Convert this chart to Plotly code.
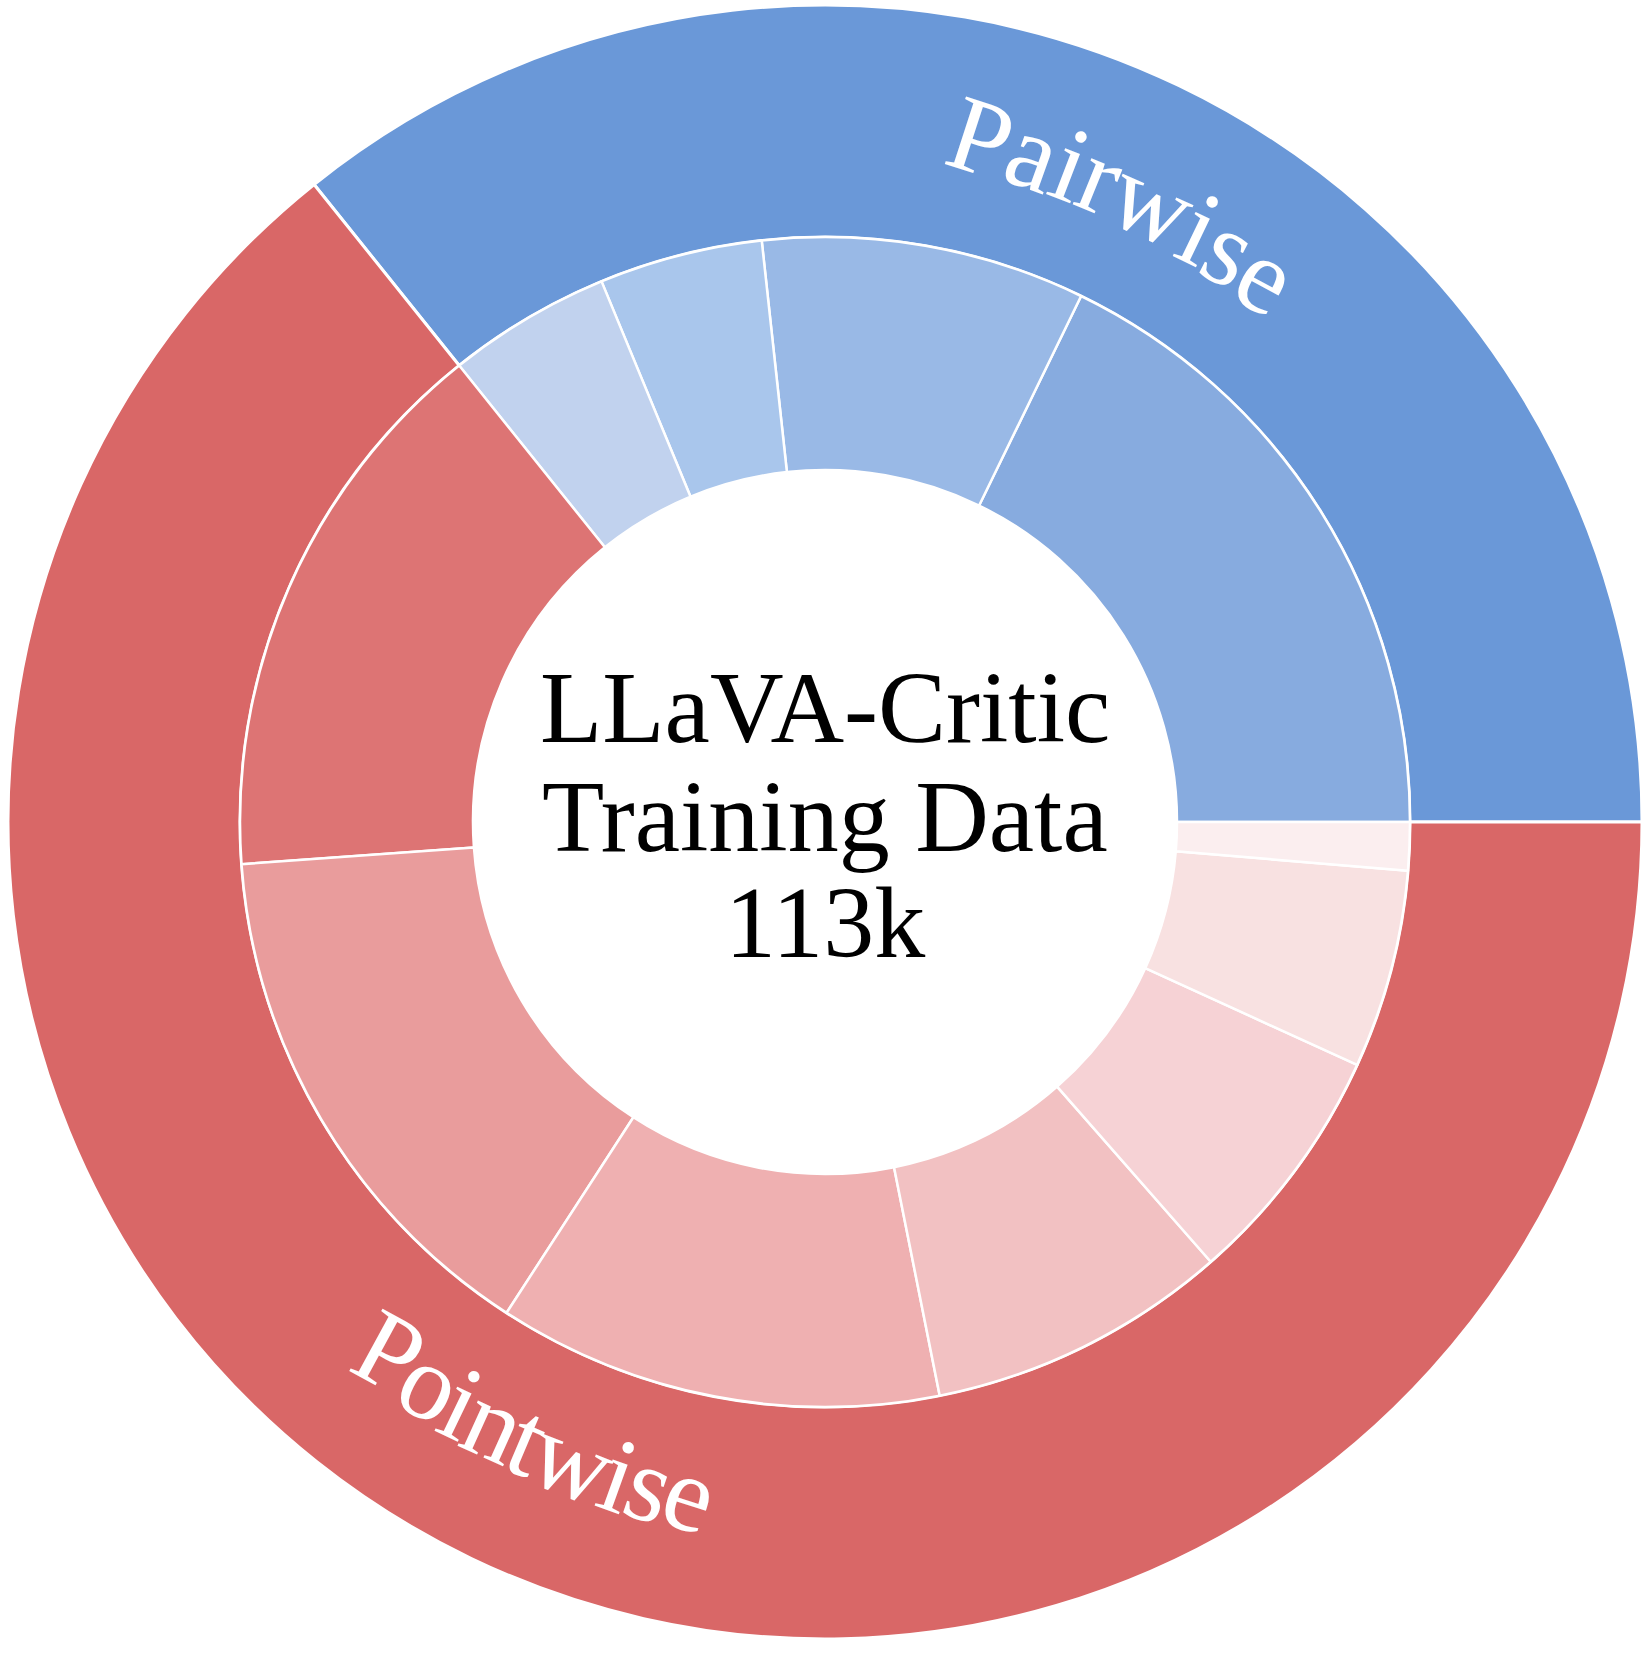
import math
import plotly.graph_objects as go

# ---- data (thousands of samples) ----
outer_labels = ["Pairwise", "Pointwise"]
outer_values = [40.4, 72.6]
outer_colors = ["#6a98d8", "#d96767"]

inner_labels = [
    "Pairwise-1", "Pairwise-2", "Pairwise-3", "Pairwise-4",
    "Pointwise-1", "Pointwise-2", "Pointwise-3", "Pointwise-4",
    "Pointwise-5", "Pointwise-6", "Pointwise-7",
]
inner_values = [20.1, 10.1, 5.1, 5.1, 17.4, 16.6, 13.9, 9.4, 7.6, 6.2, 1.5]
inner_colors = [
    "#87abdf", "#99b9e6", "#a9c6ec", "#c1d2ee",
    "#dd7474", "#e99c9c", "#efb0b1", "#f2c1c2",
    "#f6d2d5", "#f8e1e1", "#fbeeef",
]

center_lines = ["LLaVA-Critic", "Training Data", "113k"]

FONT = "Liberation Serif, Times New Roman, serif"

# ---- geometry / style ----
W, H = 1651, 1653
ML, MR, MT, MB = 8, 9, 5, 14
PW, PH = W - ML - MR, H - MT - MB
R_OUT = PW / 2            # outer radius in px
R_MID = 585               # boundary between rings
R_HOLE = 352              # inner hole
CX, CY = ML + PW / 2, MT + PH / 2

LABEL_SIZE = 108
SPACING = 0.95
BASE_TILT = 0.9           # fraction of the mid-slice tangent tilt applied to all glyphs
ROT_FOLLOW = 0.4          # how much each glyph follows the local tangent
# Times/Liberation Serif advance widths (em)
ADV = {"P": 0.556, "a": 0.444, "i": 0.278, "r": 0.333, "w": 0.722,
       "s": 0.389, "e": 0.444, "o": 0.5, "n": 0.5, "t": 0.278}


def start_rotation(values):
    # plotly (counterclockwise): first slice spans clockwise from `rotation`;
    # choose rotation so the first slice begins at 3 o'clock going counterclockwise
    return 90 - 360 * values[0] / sum(values)


def to_paper(px, py):
    return (px - ML) / PW, 1 - (py - MT) / PH


fig = go.Figure()

fig.add_trace(go.Pie(
    labels=outer_labels,
    values=outer_values,
    sort=False,
    direction="counterclockwise",
    rotation=start_rotation(outer_values),
    hole=R_MID / R_OUT,
    marker=dict(colors=outer_colors, line=dict(color="white", width=3)),
    textinfo="none",
    domain=dict(x=[0, 1], y=[0, 1]),
    showlegend=False,
    hoverinfo="label+value+percent",
))

fr = R_MID / R_OUT
pad = (1 - fr) / 2
fig.add_trace(go.Pie(
    labels=inner_labels,
    values=inner_values,
    sort=False,
    direction="counterclockwise",
    rotation=start_rotation(inner_values),
    hole=R_HOLE / R_MID,
    marker=dict(colors=inner_colors, line=dict(color="white", width=2.5)),
    textinfo="none",
    domain=dict(x=[pad, 1 - pad], y=[pad, 1 - pad]),
    showlegend=False,
    hoverinfo="label+value+percent",
))

# ---- curved ring labels (one annotation per character) ----
total = sum(outer_values)
cum = 0.0
for lab, val in zip(outer_labels, outer_values):
    mid = math.radians(360 * (cum + val / 2) / total)
    cum += val
    top = math.sin(mid) > 0
    widths = [ADV.get(ch, 0.5) * LABEL_SIZE * SPACING for ch in lab]
    L = sum(widths)
    if top:
        r_base = 665
        r_c = r_base + 0.34 * LABEL_SIZE
        mid_tilt = 90 - math.degrees(mid)
    else:
        r_base = 722
        r_c = r_base - 0.34 * LABEL_SIZE
        mid_tilt = 270 - math.degrees(mid)
    s = 0.0
    for ch, wdt in zip(lab, widths):
        sc = s + wdt / 2
        s += wdt
        off = (L / 2 - sc) / r_base
        th = mid + off if top else mid - off
        px = CX + r_c * math.cos(th)
        py = CY - r_c * math.sin(th)
        xp, yp = to_paper(px, py)
        tan_tilt = (90 - math.degrees(th)) if top else (270 - math.degrees(th))
        ang = BASE_TILT * mid_tilt + ROT_FOLLOW * (tan_tilt - mid_tilt)
        fig.add_annotation(
            text=ch, x=xp, y=yp, xref="paper", yref="paper",
            xanchor="center", yanchor="middle", showarrow=False,
            textangle=ang,
            font=dict(family=FONT, size=LABEL_SIZE, color="white"),
        )

# ---- center title ----
line_y = [0.5700, 0.5031, 0.4388]
for txt, yy in zip(center_lines, line_y):
    fig.add_annotation(
        text=txt, x=0.5, y=yy, xref="paper", yref="paper",
        xanchor="center", yanchor="middle", showarrow=False,
        font=dict(family=FONT, size=102, color="black"),
    )

fig.update_layout(
    width=W, height=H,
    margin=dict(l=ML, r=MR, t=MT, b=MB),
    paper_bgcolor="white",
    plot_bgcolor="white",
    showlegend=False,
)

fig.write_html("out.html")
